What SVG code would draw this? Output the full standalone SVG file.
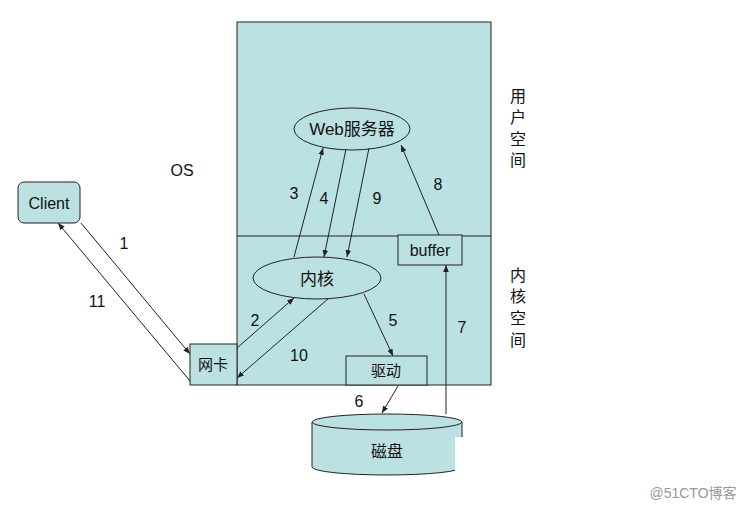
<svg xmlns="http://www.w3.org/2000/svg" width="751" height="513" viewBox="0 0 751 513">
<defs>
<style>
.f{fill:#bce1e3;stroke:#222;stroke-width:1}
.t{font-family:"Liberation Sans","Noto Sans CJK SC",sans-serif;fill:#111}
.n{font-size:16px}
.c{stroke:#222;stroke-width:1;fill:none;marker-end:url(#ah)}
</style>
<marker id="ah" viewBox="0 0 10 10" refX="10" refY="5" markerWidth="7" markerHeight="7" orient="auto" markerUnits="userSpaceOnUse">
<path d="M0,1 L10,5 L0,9 z" fill="#222"/>
</marker>
</defs>
<rect width="751" height="513" fill="#fff"/>
<g id="os">
<rect class="f" x="237" y="22" width="254" height="363"/>
<line x1="237" y1="236" x2="491" y2="236" stroke="#222"/>
<text class="t n" x="182" y="176" text-anchor="middle">OS</text>
</g>
<g id="userspace" class="t" font-size="16" text-anchor="middle">
<text x="518" y="102">用</text><text x="518" y="123">户</text><text x="518" y="145">空</text><text x="518" y="166">间</text>
</g>
<g id="kernelspace" class="t" font-size="16" text-anchor="middle">
<text x="518" y="281">内</text><text x="518" y="302">核</text><text x="518" y="324">空</text><text x="518" y="346">间</text>
</g>
<g id="client">
<rect class="f" x="18" y="182" width="62" height="41" rx="6"/>
<text class="t n" x="49" y="209" text-anchor="middle">Client</text>
</g>
<g id="nic">
<rect class="f" x="190" y="344" width="47" height="41"/>
<text class="t" font-size="15" x="213" y="370" text-anchor="middle">网卡</text>
</g>
<g id="web">
<ellipse class="f" cx="352" cy="129" rx="58" ry="21"/>
<text class="t" font-size="17" x="352" y="135" text-anchor="middle">Web服务器</text>
</g>
<g id="kernel">
<ellipse class="f" cx="317" cy="278" rx="64" ry="21"/>
<text class="t" font-size="17" x="317" y="285" text-anchor="middle">内核</text>
</g>
<g id="buffer">
<rect class="f" x="398" y="235" width="64" height="30"/>
<text class="t n" x="430" y="256" text-anchor="middle">buffer</text>
</g>
<g id="driver">
<rect class="f" x="346" y="356" width="81" height="29"/>
<text class="t" font-size="15" x="386" y="376" text-anchor="middle">驱动</text>
</g>
<g id="disk">
<path class="f" d="M312,422 L312,467 A75,8 0 0 0 462,467 L462,422"/>
<ellipse class="f" cx="387" cy="422" rx="75" ry="8"/>
<rect x="455" y="437" width="10" height="34" fill="#fff"/>
<text class="t n" x="387" y="457" text-anchor="middle">磁盘</text>
</g>
<g id="connectors">
<line class="c" x1="81" y1="223" x2="190" y2="354"/>
<line class="c" x1="190" y1="381" x2="58" y2="223"/>
<line class="c" x1="237" y1="348" x2="294" y2="298"/>
<line class="c" x1="329" y1="298" x2="237" y2="378"/>
<line class="c" x1="364" y1="294" x2="393" y2="356"/>
<line class="c" x1="398" y1="386" x2="382" y2="413"/>
<line class="c" x1="294" y1="257" x2="323" y2="148"/>
<line class="c" x1="346" y1="149" x2="324" y2="257"/>
<line class="c" x1="369" y1="148" x2="347" y2="257"/>
<line class="c" x1="439" y1="235" x2="401" y2="145"/>
<line class="c" x1="446" y1="414" x2="446" y2="265"/>
</g>
<g id="labels" class="t n" text-anchor="middle">
<text x="124" y="249">1</text>
<text x="97" y="307">11</text>
<text x="255" y="326">2</text>
<text x="299" y="361">10</text>
<text x="393" y="326">5</text>
<text x="359" y="407">6</text>
<text x="462" y="333">7</text>
<text x="294" y="199">3</text>
<text x="324" y="204">4</text>
<text x="377" y="204">9</text>
<text x="438" y="190">8</text>
</g>
<text class="t" x="693" y="498" font-size="14" fill="#999" style="fill:#999" text-anchor="middle">@51CTO博客</text>
</svg>
